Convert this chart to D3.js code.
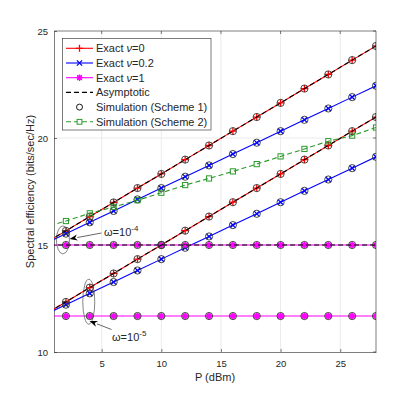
<!DOCTYPE html>
<html>
<head>
<meta charset="utf-8">
<script src="https://cdn.jsdelivr.net/npm/d3@7"></script>
<style>
  body { margin: 0; background: #fff; }
  text { font-family: "Liberation Sans", Arial, sans-serif; fill: #262626; }
</style>
</head>
<body>
<script>
// transmit power (dBm); P=0 lies left of the axis and is clipped
const power = [0, 2, 4, 6, 8, 10, 12, 14, 16, 18, 20, 22, 24, 26, 28];

// omega = 1e-4
const exactNu0_hi  = [15.00, 15.66, 16.33, 16.99, 17.66, 18.32, 18.99, 19.65, 20.32, 20.98, 21.64, 22.31, 22.97, 23.64, 24.30];
const exactNu02_hi = [15.00, 15.53, 16.06, 16.59, 17.13, 17.66, 18.19, 18.72, 19.25, 19.78, 20.32, 20.85, 21.38, 21.91, 22.44];
const exactNu1_hi  = [15.00, 15.00, 15.00, 15.00, 15.00, 15.00, 15.00, 15.00, 15.00, 15.00, 15.00, 15.00, 15.00, 15.00, 15.00];
// omega = 1e-5
const exactNu0_lo  = [11.68, 12.34, 13.01, 13.67, 14.34, 15.00, 15.67, 16.33, 17.00, 17.66, 18.32, 18.99, 19.65, 20.32, 20.98];
const exactNu02_lo = [11.68, 12.21, 12.74, 13.27, 13.81, 14.34, 14.87, 15.40, 15.93, 16.46, 17.00, 17.53, 18.06, 18.59, 19.12];
const exactNu1_lo  = [11.68, 11.68, 11.68, 11.68, 11.68, 11.68, 11.68, 11.68, 11.68, 11.68, 11.68, 11.68, 11.68, 11.68, 11.68];
// scheme 2 simulation
const scheme2 = [15.80, 16.12, 16.48, 16.78, 17.09, 17.44, 17.80, 18.11, 18.44, 18.78, 19.14, 19.49, 19.85, 20.11, 20.49];

const xTicks = [5, 10, 15, 20, 25];
const yTicks = [10, 15, 20, 25];
const legendLabels = ["Exact \u03BD=0", "Exact \u03BD=0.2", "Exact \u03BD=1", "Asymptotic",
                      "Simulation (Scheme 1)", "Simulation (Scheme 2)"];

const W = 415, H = 395;
const mLeft = 54, mRight = 376, mTop = 31, mBottom = 352;

const x = d3.scaleLinear().domain([1, 28]).range([mLeft, mRight]);
const y = d3.scaleLinear().domain([10, 25]).range([mBottom, mTop]);

const svg = d3.select("body").append("svg")
    .attr("width", W).attr("height", H);

svg.append("defs").append("clipPath").attr("id", "clip")
  .append("rect").attr("x", mLeft).attr("y", mTop)
  .attr("width", mRight - mLeft).attr("height", mBottom - mTop);

// grid
svg.append("g").selectAll("line").data(xTicks).join("line")
    .attr("x1", d => x(d)).attr("x2", d => x(d))
    .attr("y1", mTop).attr("y2", mBottom)
    .attr("stroke", "#e6e6e6").attr("stroke-width", 0.8);
svg.append("g").selectAll("line").data(yTicks.slice(1, 3)).join("line")
    .attr("x1", mLeft).attr("x2", mRight)
    .attr("y1", d => y(d)).attr("y2", d => y(d))
    .attr("stroke", "#e6e6e6").attr("stroke-width", 0.8);

// axes (ticks inward)
const xAxis = svg.append("g").attr("transform", `translate(0,${mBottom})`)
    .call(d3.axisBottom(x).tickValues(xTicks).tickSizeInner(-3).tickSizeOuter(0).tickPadding(8));
const yAxis = svg.append("g").attr("transform", `translate(${mLeft},0)`)
    .call(d3.axisLeft(y).tickValues(yTicks).tickSizeInner(-3).tickSizeOuter(0).tickPadding(6));
[xAxis, yAxis].forEach(g => {
  g.select(".domain").attr("stroke", "#262626").attr("stroke-width", 0.6);
  g.selectAll(".tick line").attr("stroke", "#262626").attr("stroke-width", 0.6);
  g.selectAll(".tick text").attr("font-size", 9.5).attr("fill", "#262626")
    .attr("font-family", "Liberation Sans, Arial, sans-serif");
});
// box top/right
svg.append("path").attr("d", `M${mLeft},${mTop}H${mRight}V${mBottom}`)
    .attr("fill", "none").attr("stroke", "#262626").attr("stroke-width", 0.6);
// top/right ticks
svg.append("g").selectAll("line").data(xTicks).join("line")
    .attr("x1", d => x(d)).attr("x2", d => x(d)).attr("y1", mTop).attr("y2", mTop + 3)
    .attr("stroke", "#262626").attr("stroke-width", 0.6);
svg.append("g").selectAll("line").data(yTicks).join("line")
    .attr("x1", mRight - 3).attr("x2", mRight).attr("y1", d => y(d)).attr("y2", d => y(d))
    .attr("stroke", "#262626").attr("stroke-width", 0.6);

// labels
svg.append("text").attr("x", (mLeft + mRight) / 2).attr("y", 381)
    .attr("text-anchor", "middle").attr("font-size", 11).text("P (dBm)");
svg.append("text").attr("transform", `translate(34,${(mTop + mBottom) / 2}) rotate(-90)`)
    .attr("text-anchor", "middle").attr("font-size", 11)
    .text("Spectral efficiency (bits/sec/Hz)");

// marker path helpers
const plus = s => `M${-s},0H${s}M0,${-s}V${s}`;
const cross = s => `M${-s},${-s}L${s},${s}M${-s},${s}L${s},${-s}`;
const star = s => plus(s) + cross(s * 0.75);

const plot = svg.append("g").attr("clip-path", "url(#clip)");
const line = d3.line().x((d, i) => x(power[i])).y(d => y(d));

function drawSeries(g, vals, color, marker, dash) {
  g.append("path").datum(vals).attr("d", line)
    .attr("fill", "none").attr("stroke", color).attr("stroke-width", 1.1)
    .attr("stroke-dasharray", dash || null);
  if (marker) {
    g.append("g").selectAll("path").data(vals).join("path")
      .attr("transform", (d, i) => `translate(${x(power[i])},${y(d)})`)
      .attr("d", marker).attr("fill", "none").attr("stroke", color).attr("stroke-width", 1.3);
  }
}

const exactRed = [exactNu0_hi, exactNu0_lo];
const exactBlue = [exactNu02_hi, exactNu02_lo];
const exactMag = [exactNu1_hi, exactNu1_lo];

exactRed.forEach(v => drawSeries(plot, v, "#ff0000", plus(3.5)));
exactBlue.forEach(v => drawSeries(plot, v, "#0000ff", cross(2.6)));
exactMag.forEach(v => {
  drawSeries(plot, v, "#ff00ff", star(3.2));
  plot.append("g").selectAll("circle").data(v).join("circle")
    .attr("cx", (d, i) => x(power[i])).attr("cy", d => y(d)).attr("r", 2.6)
    .attr("fill", "#ff00ff");
});

// asymptotic (black dashed)
[exactNu0_hi, exactNu0_lo, exactNu1_hi].forEach(v =>
  drawSeries(plot, v, "#000000", null, "5,3"));

// simulation scheme 1 circles on all six exact curves
[...exactRed, ...exactBlue, ...exactMag].forEach(v => {
  plot.append("g").selectAll("circle").data(v).join("circle")
    .attr("cx", (d, i) => x(power[i])).attr("cy", d => y(d)).attr("r", 3.6)
    .attr("fill", "none").attr("stroke", "#333333").attr("stroke-width", 0.9);
});

// simulation scheme 2
const green = "#2b9a2b";
plot.append("path").datum(scheme2).attr("d", line)
  .attr("fill", "none").attr("stroke", green).attr("stroke-width", 1.1)
  .attr("stroke-dasharray", "5,3");
plot.append("g").selectAll("rect").data(scheme2).join("rect")
  .attr("x", (d, i) => x(power[i]) - 2.6).attr("y", d => y(d) - 2.6)
  .attr("width", 5.2).attr("height", 5.2)
  .attr("fill", "none").attr("stroke", green).attr("stroke-width", 1);

// annotations: ellipses + arrows
const ann = svg.append("g");
ann.append("ellipse").attr("cx", x(2) - 3).attr("cy", y(15.24)).attr("rx", 6.5).attr("ry", 14)
  .attr("fill", "none").attr("stroke", "#333").attr("stroke-width", 0.6);
ann.append("ellipse").attr("cx", x(4) - 1).attr("cy", y(12.35)).attr("rx", 6).attr("ry", 22.5)
  .attr("fill", "none").attr("stroke", "#333").attr("stroke-width", 0.6);

function arrow(x1, y1, x2, y2) {
  const a = Math.atan2(y2 - y1, x2 - x1), L = 8, Wd = 3;
  const bx = x2 - L * Math.cos(a), by = y2 - L * Math.sin(a);
  ann.append("line").attr("x1", x1).attr("y1", y1).attr("x2", bx).attr("y2", by)
    .attr("stroke", "#000").attr("stroke-width", 0.6);
  const px = -Math.sin(a) * Wd, py = Math.cos(a) * Wd;
  const nx = x2 - L * 0.7 * Math.cos(a), ny = y2 - L * 0.7 * Math.sin(a);
  ann.append("path")
    .attr("d", `M${x2},${y2}L${bx + px},${by + py}L${nx},${ny}L${bx - px},${by - py}Z`)
    .attr("fill", "#000");
}
arrow(101.5, 233, 69.5, 239);
arrow(111.5, 329.5, 89.5, 321);

function omegaLabel(tx, ty, exp) {
  const t = ann.append("text").attr("x", tx).attr("y", ty).attr("font-size", 11);
  t.append("tspan").text("\u03C9=10");
  t.append("tspan").attr("dy", -5).attr("font-size", 8).text(exp);
}
omegaLabel(104, 236, "-4");
omegaLabel(112, 341, "-5");

// legend
const lg = svg.append("g");
lg.append("rect").attr("x", 62.5).attr("y", 38.5).attr("width", 148.5).attr("height", 91.5)
  .attr("fill", "#fff").attr("stroke", "#262626").attr("stroke-width", 0.6);
const ly = i => 48.3 + i * 14.7;
const lx1 = 66, lx2 = 93, lxm = (lx1 + lx2) / 2;
const legendStyle = [
  {c: "#ff0000", m: plus(3.5)},
  {c: "#0000ff", m: cross(2.6)},
  {c: "#ff00ff", m: star(3.2), fill: true},
  {c: "#000000", dash: "5,3"},
  {c: null, circle: true},
  {c: green, dash: "5,3", square: true}
];
legendLabels.forEach((lab, i) => {
  const s = legendStyle[i];
  if (s.c) {
    lg.append("line").attr("x1", lx1).attr("x2", lx2).attr("y1", ly(i)).attr("y2", ly(i))
      .attr("stroke", s.c).attr("stroke-width", 1.1).attr("stroke-dasharray", s.dash || null);
  }
  if (s.m) lg.append("path").attr("transform", `translate(${lxm},${ly(i)})`)
      .attr("d", s.m).attr("fill", "none").attr("stroke", s.c).attr("stroke-width", 1.3);
  if (s.fill) lg.append("circle").attr("cx", lxm).attr("cy", ly(i)).attr("r", 2.4).attr("fill", s.c);
  if (s.circle) lg.append("circle").attr("cx", lxm).attr("cy", ly(i)).attr("r", 3)
      .attr("fill", "none").attr("stroke", "#000").attr("stroke-width", 0.9);
  if (s.square) lg.append("rect").attr("x", lxm - 2.4).attr("y", ly(i) - 2.4)
      .attr("width", 4.8).attr("height", 4.8).attr("fill", "#fff").attr("stroke", s.c).attr("stroke-width", 1);
  const t = lg.append("text").attr("x", 96).attr("y", ly(i) + 4).attr("font-size", 11);
  // italic nu, as in the TeX-rendered legend
  lab.split(/(\u03BD)/).forEach(part => {
    if (!part) return;
    const sp = t.append("tspan").text(part);
    if (part === "\u03BD") sp.attr("font-style", "italic");
  });
});
</script>
</body>
</html>
